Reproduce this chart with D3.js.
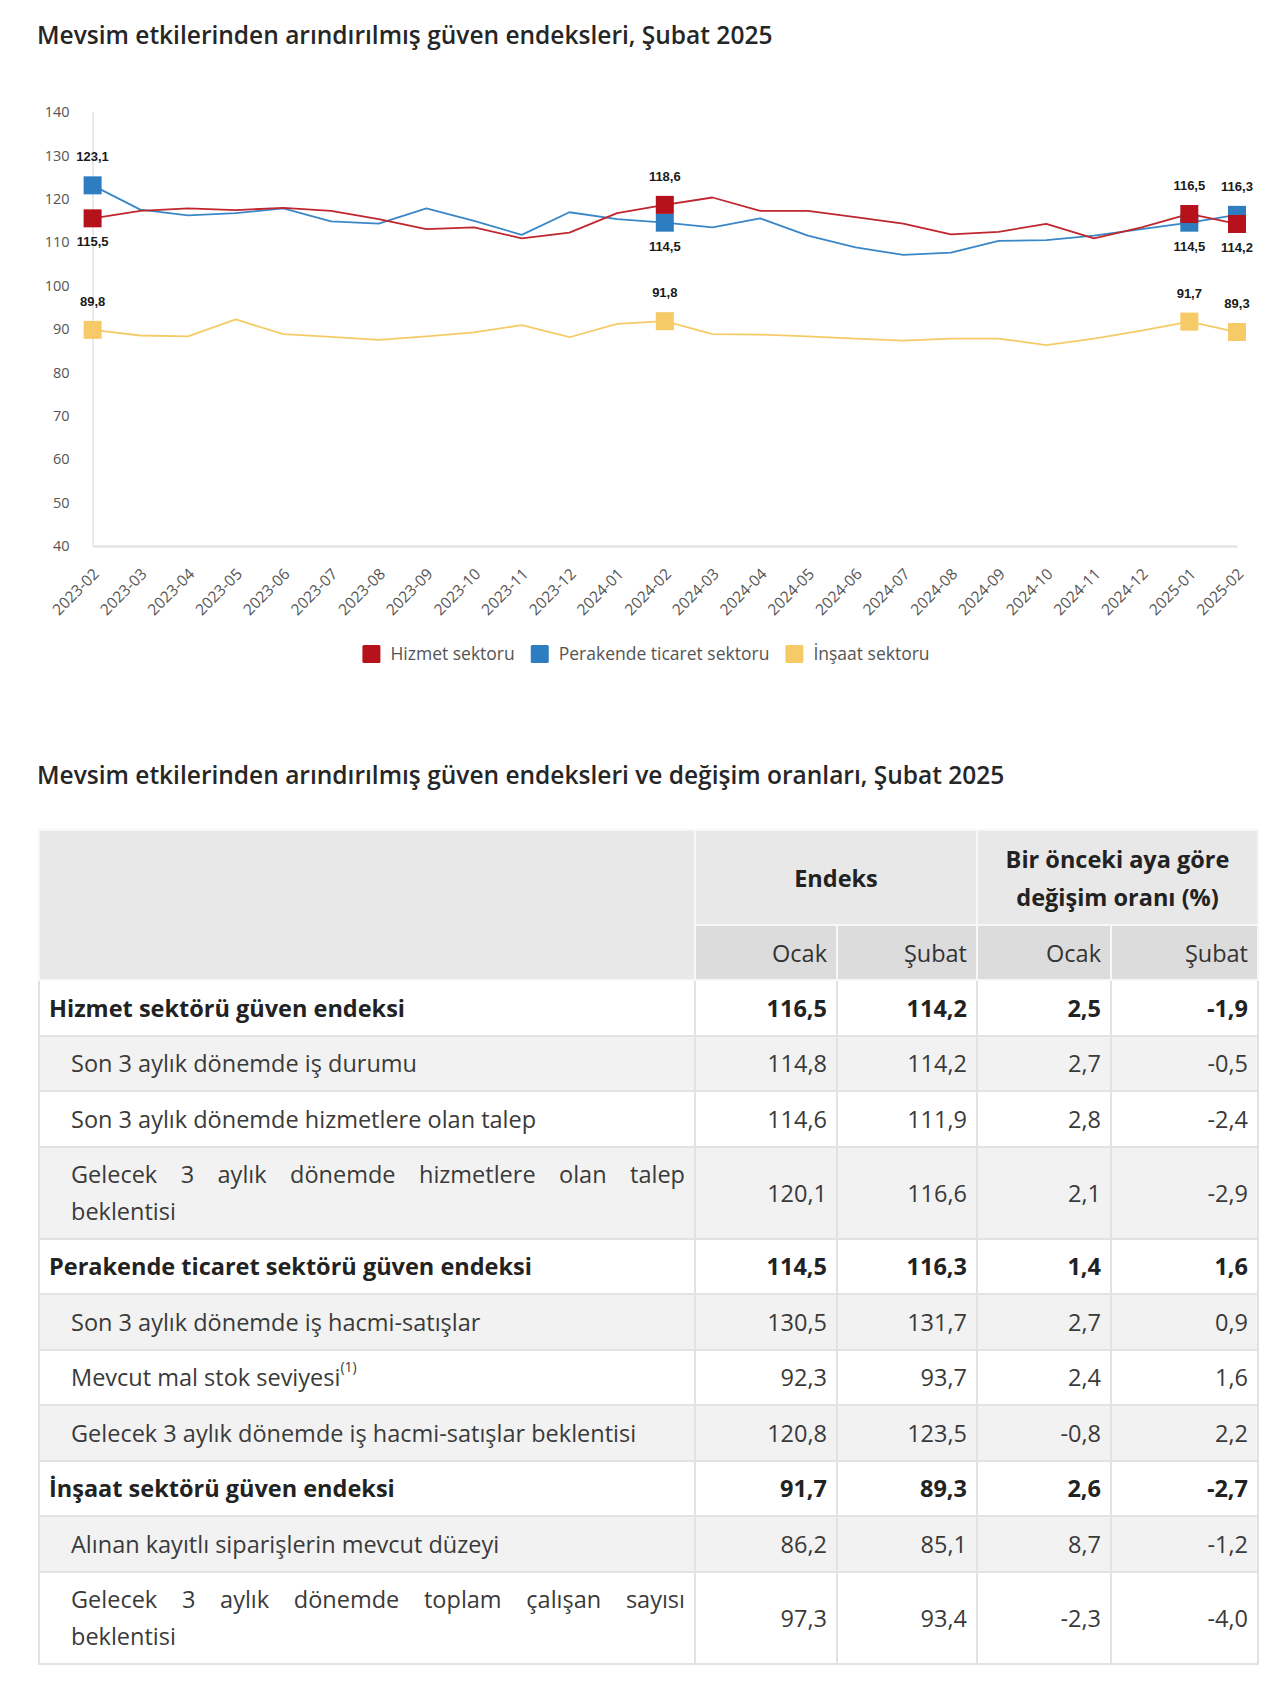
<!DOCTYPE html>
<html><head><meta charset="utf-8">
<script src="https://cdn.jsdelivr.net/npm/d3@7"></script>
<style>
body{margin:0;background:#fff;width:1280px;height:1681px;position:relative;font-family:"Open Sans",sans-serif;overflow:hidden;}
#chart{position:absolute;left:0;top:0;}
.ttl{position:absolute;left:37px;font-size:24.5px;font-weight:600;color:#262626;white-space:nowrap;}
table{position:absolute;left:38px;top:829px;width:1219px;border-collapse:collapse;table-layout:fixed;font-size:23.5px;color:#3a3a3a;}
td,th{border:2px solid #e2e2e2;padding:0 9px;box-sizing:border-box;}
th{background:#e8e8e8;border-color:#f7f7f7;color:#222;}
tr.h2 th{background:#dcdcdc;font-weight:400;text-align:right;color:#333;}
td.num{text-align:right;}
tr.bold td{font-weight:700;color:#222;}
tr.sub td.lbl{padding-left:31px;}
tr.gray td{background:#f2f2f2;}
.jl{text-align:justify;text-align-last:justify;}
sup{font-size:14px;vertical-align:top;position:relative;top:-4px;}
</style></head><body>
<svg id="chart" width="1280" height="700"></svg>
<div class="ttl" style="top:18px">Mevsim etkilerinden arındırılmış güven endeksleri, Şubat 2025</div>
<div class="ttl" style="top:758px">Mevsim etkilerinden arındırılmış güven endeksleri ve değişim oranları, Şubat 2025</div>
<div id="tbl"></div>
<script>
const dates = ["2023-02","2023-03","2023-04","2023-05","2023-06","2023-07","2023-08","2023-09","2023-10","2023-11","2023-12","2024-01","2024-02","2024-03","2024-04","2024-05","2024-06","2024-07","2024-08","2024-09","2024-10","2024-11","2024-12","2025-01","2025-02"];
const hizmet = [115.5,117.2,117.8,117.4,117.9,117.2,115.3,113.0,113.4,110.9,112.2,116.7,118.6,120.3,117.2,117.2,115.8,114.3,111.8,112.4,114.2,110.9,113.4,116.5,114.2];
const perakende = [123.1,117.5,116.2,116.7,117.8,114.8,114.3,117.8,114.9,111.7,116.9,115.3,114.5,113.4,115.5,111.5,108.8,107.1,107.6,110.3,110.5,111.5,113.0,114.5,116.3];
const insaat = [89.8,88.5,88.3,92.2,88.8,88.2,87.5,88.3,89.2,90.9,88.1,91.2,91.8,88.8,88.7,88.3,87.8,87.3,87.8,87.8,86.3,87.8,89.6,91.7,89.3];
const markedIdx = [0,12,23,24];
const seriesNames = ["Hizmet sektoru","Perakende ticaret sektoru","İnşaat sektoru"];
const yTicks = [40,50,60,70,80,90,100,110,120,130,140];

// table data
const rowLabels = ["Hizmet sektörü güven endeksi","Son 3 aylık dönemde iş durumu","Son 3 aylık dönemde hizmetlere olan talep","Gelecek 3 aylık dönemde hizmetlere olan talep|beklentisi","Perakende ticaret sektörü güven endeksi","Son 3 aylık dönemde iş hacmi-satışlar","Mevcut mal stok seviyesi^(1)","Gelecek 3 aylık dönemde iş hacmi-satışlar beklentisi","İnşaat sektörü güven endeksi","Alınan kayıtlı siparişlerin mevcut düzeyi","Gelecek 3 aylık dönemde toplam çalışan sayısı|beklentisi"];
const rowBold = [true,false,false,false,true,false,false,false,true,false,false];
const endeksOcak = [116.5,114.8,114.6,120.1,114.5,130.5,92.3,120.8,91.7,86.2,97.3];
const endeksSubat = [114.2,114.2,111.9,116.6,116.3,131.7,93.7,123.5,89.3,85.1,93.4];
const degisimOcak = [2.5,2.7,2.8,2.1,1.4,2.7,2.4,-0.8,2.6,8.7,-2.3];
const degisimSubat = [-1.9,-0.5,-2.4,-2.9,1.6,0.9,1.6,2.2,-2.7,-1.2,-4.0];
const headerGroups = ["Endeks","Bir önceki aya göre|değişim oranı (%)"];
const headerSub = ["Ocak","Şubat","Ocak","Şubat"];

const trLocale = d3.formatLocale({decimal:",",thousands:".",grouping:[3],currency:["","TL"],minus:"-"});
const f1 = trLocale.format(".1f");

// ---------- chart ----------
const svg = d3.select("#chart");
const x = d3.scalePoint().domain(dates).range([92.6,1237]);
const y = d3.scaleLinear().domain([40,140]).range([546,112]);
const colors = ["#b5121b","#2e7dc0","#f6ca66"];
const lineColors = ["#c0262d","#3a87c8","#f5cb68"];
const series = [hizmet, perakende, insaat];
const drawOrder = [2,1,0];

const yAxis = svg.append("g").attr("transform","translate(92.6,0)")
  .call(d3.axisLeft(y).tickValues(yTicks).tickSize(0).tickSizeOuter(0).tickPadding(23).tickFormat(d3.format("d")));
yAxis.select(".domain").attr("stroke","#e3e3e3").attr("stroke-width",1.5);
yAxis.selectAll("text").attr("font-family","'Open Sans',sans-serif").attr("font-size",14.5).attr("fill","#555");

const xAxis = svg.append("g").attr("transform","translate(0,546)")
  .call(d3.axisBottom(x).tickSize(0).tickSizeOuter(0));
xAxis.select(".domain").attr("stroke","#e3e3e3").attr("stroke-width",2.5);
xAxis.selectAll("text").attr("font-family","'Open Sans',sans-serif").attr("font-size",15.5).attr("fill","#555")
  .attr("text-anchor","end").attr("y",0).attr("dy",0)
  .attr("transform","translate(7,29) rotate(-45)");

const line = d3.line().x((d,i)=>x(dates[i])).y(d=>y(d));
drawOrder.forEach(k=>{
  svg.append("path").datum(series[k]).attr("d",line).attr("fill","none")
    .attr("stroke",lineColors[k]).attr("stroke-width",1.8).attr("stroke-linejoin","round");
});
const ms = 18;
drawOrder.forEach(k=>{
  const s = series[k];
  svg.append("g").selectAll("rect").data(markedIdx).join("rect")
    .attr("x",i=>x(dates[i])-ms/2).attr("y",i=>y(s[i])-ms/2)
    .attr("width",ms).attr("height",ms).attr("fill",colors[k]);
});
// labels
series.forEach((s,k)=>{
  svg.append("g").selectAll("text").data(markedIdx).join("text")
    .attr("x",i=>x(dates[i]))
    .attr("y",i=>{
      let above = true;
      if(k===0) above = hizmet[i] >= perakende[i];
      if(k===1) above = perakende[i] > hizmet[i];
      return above ? y(s[i]) - 24 : y(s[i]) + 28;
    })
    .attr("text-anchor","middle").attr("font-family","'Liberation Sans',Arial,sans-serif")
    .attr("font-weight","bold").attr("font-size",13).attr("fill","#1a1a1a")
    .text(i=>f1(s[i]));
});
// legend
const lfs = 17.5;
const lg = svg.append("g").attr("transform","translate(0,654)");
const tmp = lg.append("text").attr("font-family","'Open Sans',sans-serif").attr("font-size",lfs);
const widths = seriesNames.map(n=>{tmp.text(n);return tmp.node().getComputedTextLength();});
tmp.remove();
const sq=18, gapT=10, gapI=16;
const total = d3.sum(widths) + seriesNames.length*(sq+gapT) + (seriesNames.length-1)*gapI;
let lx = 646 - total/2;
seriesNames.forEach((n,k)=>{
  lg.append("rect").attr("x",lx).attr("y",-sq/2).attr("width",sq).attr("height",sq).attr("rx",1.5).attr("fill",colors[k]);
  lg.append("text").attr("x",lx+sq+gapT).attr("y",0).attr("dy","0.35em")
    .attr("font-family","'Open Sans',sans-serif").attr("font-size",lfs).attr("fill","#555").text(n);
  lx += sq+gapT+widths[k]+gapI;
});

// ---------- table ----------
const table = d3.select("#tbl").append("table");
const cg = table.append("colgroup");
[656,142,140,134,147].forEach(w=>cg.append("col").style("width",w+"px"));
const thead = table.append("thead");
const h1 = thead.append("tr").style("height","95px");
h1.append("th").attr("rowspan",2);
headerGroups.forEach(t=>{
  const th = h1.append("th").attr("colspan",2).style("text-align","center").style("line-height","38px").style("font-weight","700");
  t.split("|").forEach((p,i)=>{ if(i) th.append("br"); th.append("span").text(p); });
});
const h2 = thead.append("tr").attr("class","h2").style("height","55px");
headerSub.forEach(t=>h2.append("th").text(t));
const tbody = table.append("tbody");
rowLabels.forEach((lab,i)=>{
  const two = lab.includes("|");
  const tr = tbody.append("tr").attr("class",(rowBold[i]?"bold":"sub")+(i%2===1?" gray":""))
    .style("height",(two?92:55.5)+"px");
  const td = tr.append("td").attr("class","lbl");
  if(two){
    const parts = lab.split("|");
    td.style("line-height","37px");
    td.append("div").attr("class","jl").text(parts[0]);
    td.append("div").text(parts[1]);
  } else if(lab.includes("^")){
    const parts = lab.split("^");
    td.append("span").text(parts[0]);
    td.append("sup").text(parts[1]);
  } else td.text(lab);
  [endeksOcak[i],endeksSubat[i],degisimOcak[i],degisimSubat[i]].forEach(v=>{
    tr.append("td").attr("class","num").text(f1(v));
  });
});
</script>
</body></html>
